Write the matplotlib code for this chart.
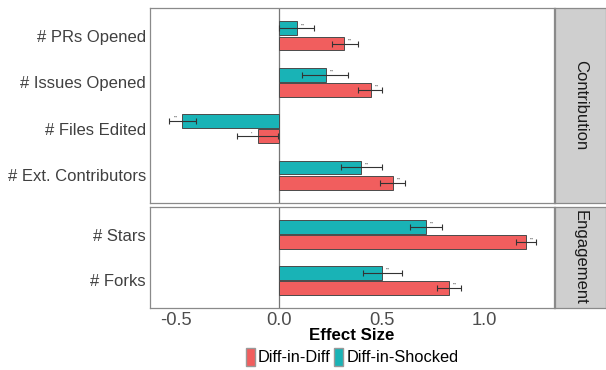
import matplotlib.pyplot as plt
from matplotlib.patches import Patch
import numpy as np

plt.rcParams['font.family'] = ['Liberation Sans', 'DejaVu Sans']

# top panel (Contribution), listed top to bottom
contrib = ['# PRs Opened', '# Issues Opened', '# Files Edited', '# Ext. Contributors']
c_did = [0.317, 0.446, -0.104, 0.553]
c_did_lo = [0.256, 0.386, -0.203, 0.491]
c_did_hi = [0.383, 0.502, -0.003, 0.614]
c_did_sig = ['***', '***', '*', '***']
c_dis = [0.086, 0.227, -0.470, 0.400]
c_dis_lo = [0.002, 0.113, -0.533, 0.300]
c_dis_hi = [0.172, 0.335, -0.402, 0.502]
c_dis_sig = ['***', '***', '***', '***']

# bottom panel (Engagement)
engage = ['# Stars', '# Forks']
e_did = [1.201, 0.825]
e_did_lo = [1.151, 0.767]
e_did_hi = [1.251, 0.883]
e_did_sig = ['***', '***']
e_dis = [0.715, 0.502]
e_dis_lo = [0.638, 0.410]
e_dis_hi = [0.791, 0.597]
e_dis_sig = ['***', '***']

red = '#F15E5E'
teal = '#19B3B6'
W, H = 606, 370


def box(x0, y0, x1, y1):
    return [x0 / W, 1 - y1 / H, (x1 - x0) / W, (y1 - y0) / H]


def panel(ax, cats, did, did_lo, did_hi, did_sig, dis, dis_lo, dis_hi, dis_sig):
    n = len(cats)
    pos = np.arange(n)[::-1] + 1.0
    h = 0.3
    off = 0.165
    for vals, lo, hi, sig, col, d in [(did, did_lo, did_hi, did_sig, red, -off),
                                      (dis, dis_lo, dis_hi, dis_sig, teal, off)]:
        vals = np.array(vals)
        y = pos + d
        ax.barh(y, vals, height=h, color=col, edgecolor='#4a4a4a', linewidth=0.7, zorder=2)
        ax.errorbar(vals, y, xerr=[vals - np.array(lo), np.array(hi) - vals], fmt='none',
                    ecolor='#333333', elinewidth=0.8, capsize=2, capthick=0.8, zorder=3)
        for v, yy, s in zip(vals, y, sig):
            ax.text(v + np.sign(v) * 0.03, yy + 0.02, s, fontsize=2.5, color='#333333',
                    ha='center', va='bottom', zorder=4)
    ax.axvline(0, color='#777777', lw=0.9, zorder=1)
    ax.set_xlim(-0.627, 1.337)
    ax.set_ylim(0.4, n + 0.6)
    ax.set_yticks(pos)
    ax.set_yticklabels(cats, fontsize=12, color='#404040')
    ax.tick_params(axis='y', length=0, pad=3)
    ax.tick_params(axis='x', length=0, labelsize=13.2, labelcolor='#4d4d4d', pad=3)
    for s in ax.spines.values():
        s.set_color('#8a8a8a')
        s.set_linewidth(0.9)


def strip(fig, rect, label):
    sax = fig.add_axes(rect)
    sax.set_facecolor('#cfcfcf')
    sax.set_xticks([])
    sax.set_yticks([])
    for s in sax.spines.values():
        s.set_color('#8a8a8a')
        s.set_linewidth(0.9)
    sax.text(0.5, 0.5, label, rotation=-90, ha='center', va='center', fontsize=12,
             color='#1a1a1a', transform=sax.transAxes)


fig = plt.figure(figsize=(6.06, 3.70), dpi=100)
ax1 = fig.add_axes(box(150, 8, 554, 203))
ax2 = fig.add_axes(box(150, 207, 554, 308))

panel(ax1, contrib, c_did, c_did_lo, c_did_hi, c_did_sig, c_dis, c_dis_lo, c_dis_hi, c_dis_sig)
panel(ax2, engage, e_did, e_did_lo, e_did_hi, e_did_sig, e_dis, e_dis_lo, e_dis_hi, e_dis_sig)
ax1.set_xticklabels([])
ax2.set_xticks([-0.5, 0.0, 0.5, 1.0])
ax2.set_xticklabels(['-0.5', '0.0', '0.5', '1.0'])
ax2.set_xlabel('Effect Size', fontsize=12.2, fontweight='bold', labelpad=-1)

strip(fig, box(555, 8, 606, 203), 'Contribution')
strip(fig, box(555, 207, 606, 308), 'Engagement')

handles = [Patch(facecolor=red, edgecolor='#999999', label='Diff-in-Diff'),
           Patch(facecolor=teal, edgecolor='#999999', label='Diff-in-Shocked')]
fig.legend(handles=handles, loc='center', bbox_to_anchor=(352 / W, 1 - 357 / H), ncol=2,
           frameon=False, fontsize=11.8, handlelength=0.55, handleheight=1.4,
           handletextpad=0.2, columnspacing=0.2, borderpad=0)

fig.savefig('out.png', dpi=100)
